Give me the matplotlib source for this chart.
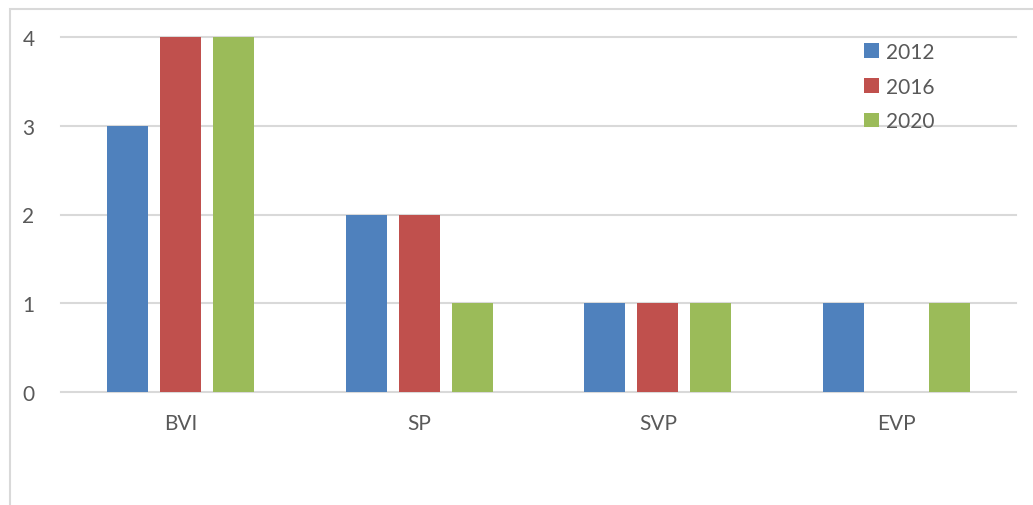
import matplotlib
matplotlib.use("Agg")
import matplotlib.pyplot as plt
import numpy as np
from matplotlib.patches import Rectangle

categories = ["BVI", "SP", "SVP", "EVP"]
series_names = ["2012", "2016", "2020"]
values_2012 = [3, 2, 1, 1]
values_2016 = [4, 2, 1, 0]
values_2020 = [4, 1, 1, 1]
series_values = [values_2012, values_2016, values_2020]
colors = ["#4F81BD", "#C0504D", "#9BBB59"]
yticks = [0, 1, 2, 3, 4]

plt.rcParams['font.family'] = ['Lato', 'DejaVu Sans']
text_color = "#595959"
grid_color = "#D9D9D9"

W, H = 1033, 506
fig = plt.figure(figsize=(W / 100, H / 100), dpi=100)
fig.patch.set_facecolor("white")

# outer chart border (only top/left visible in the crop)
fig.patches.append(Rectangle((9.5 / W, -0.2), 2.0, 1.2 - 9.5 / H,
                             transform=fig.transFigure, fill=False,
                             edgecolor=grid_color, linewidth=1.5, zorder=0))

ax = fig.add_axes([61 / W, 1 - 393 / H, (1016 - 61) / W, (393 - 38) / H])
x = np.arange(len(categories))
bw = 0.172
step = 0.222
for i, (name, vals, c) in enumerate(zip(series_names, series_values, colors)):
    ax.bar(x + (i - 1) * step, vals, width=bw, color=c, label=name, zorder=3)

ax.set_xlim(-0.5, len(categories) - 0.5)
ax.set_ylim(0, 4)
ax.set_yticks(yticks)
ax.set_yticklabels([str(v) for v in yticks])
ax.set_xticks(x)
ax.set_xticklabels(categories)
for sp in ax.spines.values():
    sp.set_visible(False)
ax.tick_params(axis='both', length=0, labelsize=15, colors=text_color)
ax.tick_params(axis='y', pad=19)
ax.tick_params(axis='x', pad=15)
ax.yaxis.grid(True, color=grid_color, linewidth=1.5, zorder=0)
ax.set_axisbelow(True)
for gl in ax.get_ygridlines():
    gl.set_clip_on(False)

leg = ax.legend(loc="upper left",
                bbox_to_anchor=((864 - 61) / (1016 - 61), 1.0 - (43 - 38) / (393 - 38)),
                frameon=False, fontsize=15, handlelength=0.7, handleheight=0.7,
                handletextpad=0.35, labelspacing=0.7, borderaxespad=0.0,
                borderpad=0.0)
for t in leg.get_texts():
    t.set_color(text_color)

fig.savefig("out.png", dpi=100, facecolor="white")
